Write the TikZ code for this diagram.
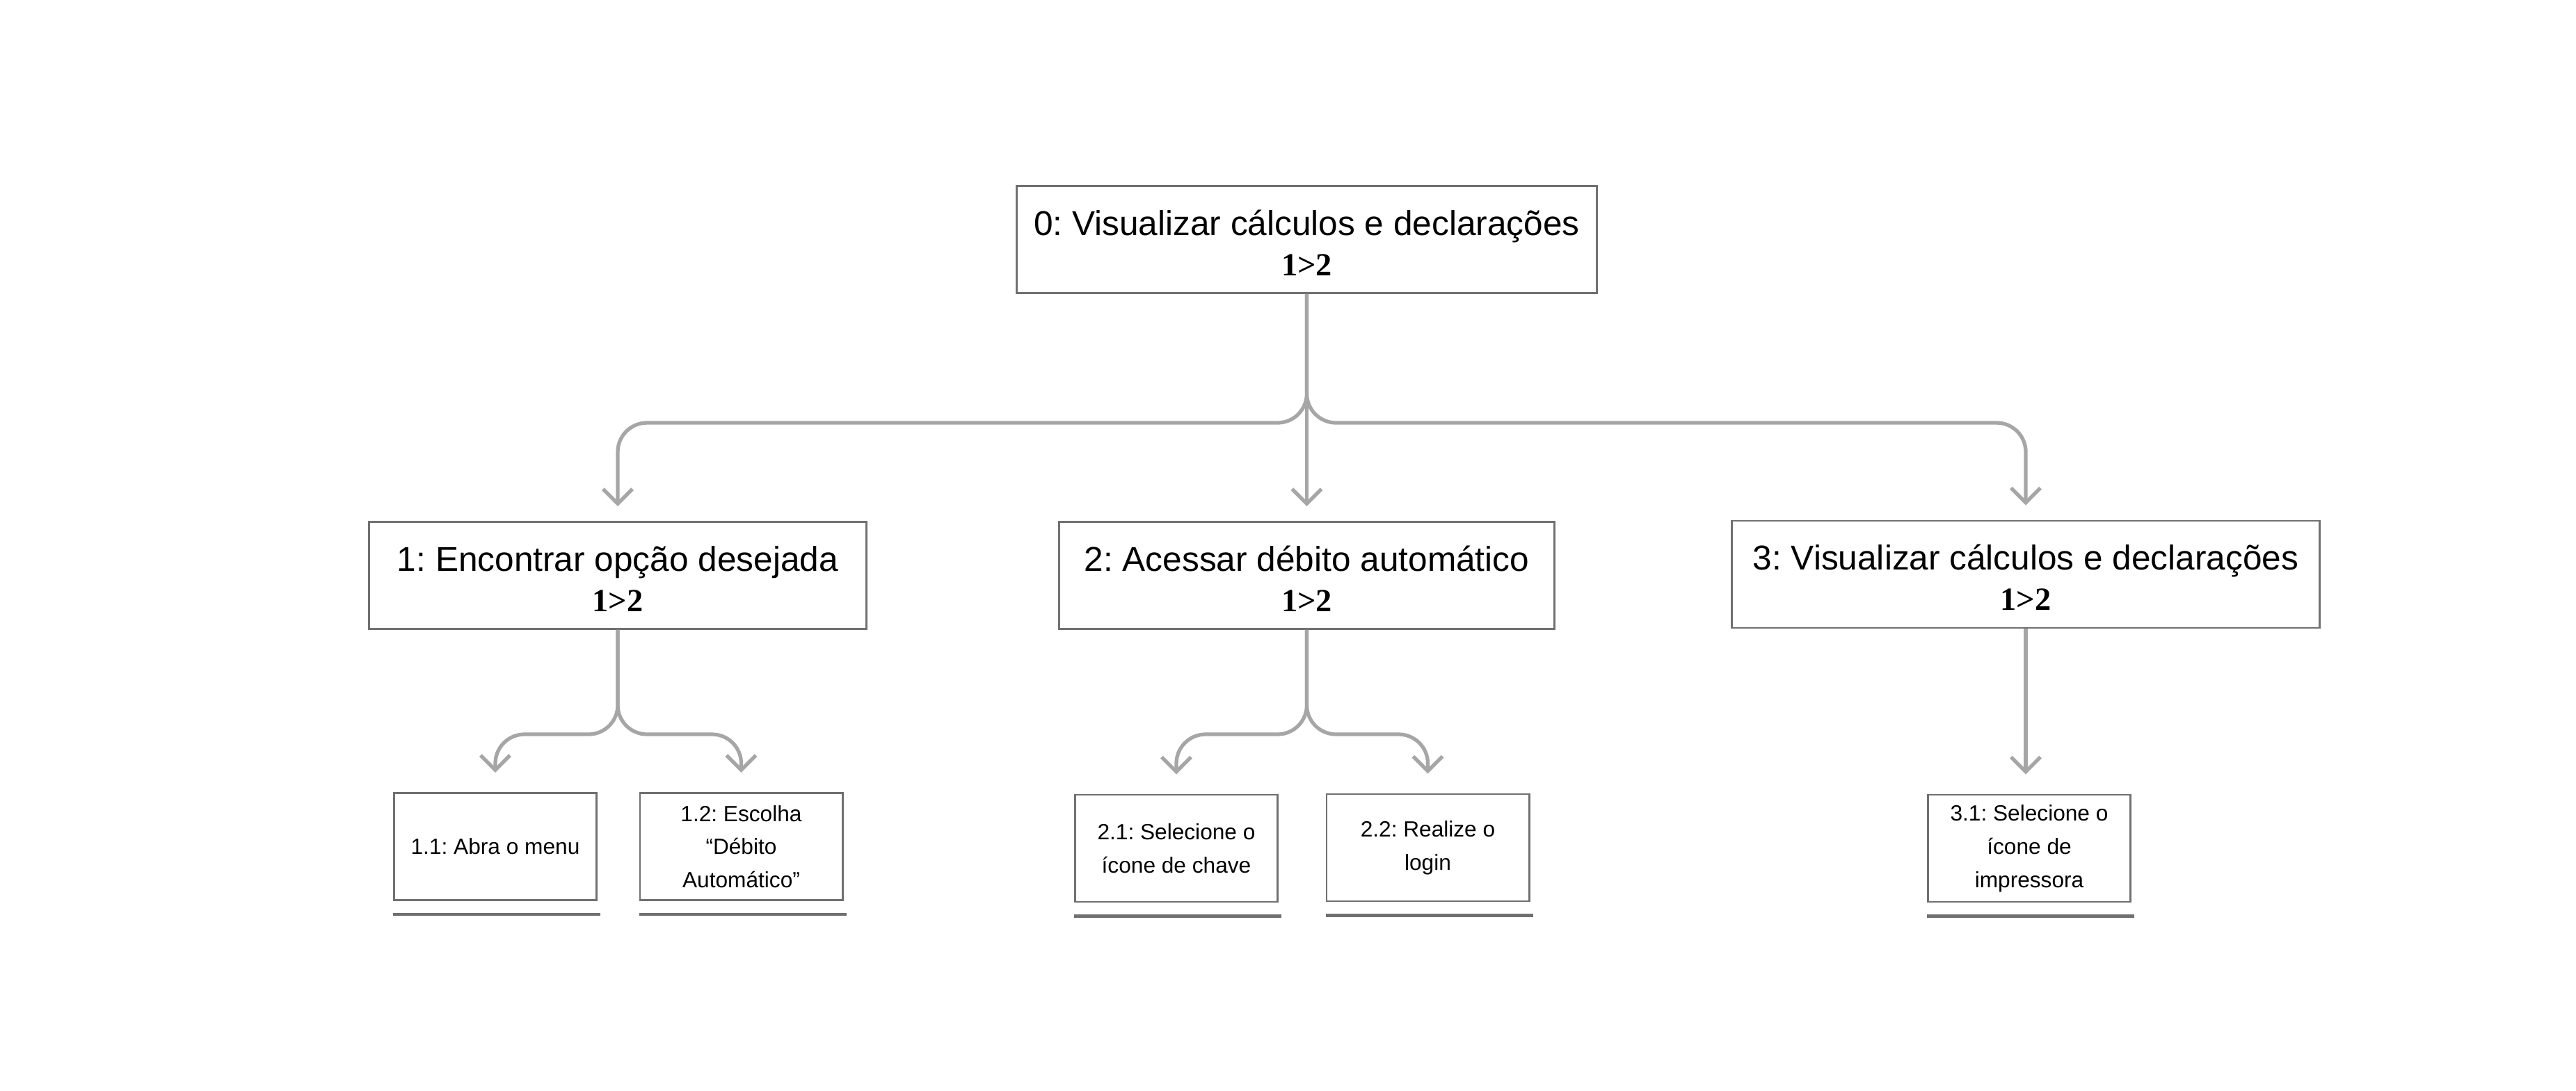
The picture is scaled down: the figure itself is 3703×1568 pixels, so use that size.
\documentclass[tikz,border=0pt]{standalone}
\usepackage{fontspec}
\setmainfont{Liberation Sans}
\newfontfamily\numfont{Liberation Serif}
\usetikzlibrary{arrows.meta}
\definecolor{boxgray}{HTML}{707070}
\definecolor{arrgray}{HTML}{A6A6A6}
\frenchspacing
\newcommand{\ord}{{\fontsize{13.2}{16.5}\numfont\bfseries 1>2}}
\newcommand{\lowtext}[1]{\raisebox{-0.11cm}[\height][\depth]{\begin{tabular}{@{}c@{}}#1\end{tabular}}}
\begin{document}
\begin{tikzpicture}[x=0.01cm,y=-0.01cm,
  bigbox/.style={draw=boxgray,line width=0.8pt,inner sep=0pt,
    minimum height=1.54cm,font=\fontsize{14.1}{16.5}\selectfont},
  smallbox/.style={draw=boxgray,line width=0.8pt,inner sep=0pt,align=center,
    minimum width=2.91cm,minimum height=1.54cm,font=\fontsize{9}{13.6}\selectfont},
  conn/.style={draw=arrgray,line width=1.5pt,rounded corners=0.42cm,
    -{Straight Barb[length=6pt,width=12pt,line width=1.5pt]}},
  uline/.style={draw=boxgray,line width=1.3pt}]
\useasboundingbox (0,0) rectangle (3703,1568);
% level 0
\node[bigbox,minimum width=8.33cm] (b0) at (1878.5,344.5) {\lowtext{0: Visualizar cálculos e declarações\\\ord}};
% level 1
\node[bigbox,minimum width=7.15cm] (b1) at (888,827.5) {\lowtext{1: Encontrar opção desejada\\\ord}};
\node[bigbox,minimum width=7.11cm] (b2) at (1878.5,827.5) {\lowtext{2: Acessar débito automático\\\ord}};
\node[bigbox,minimum width=8.44cm] (b3) at (2912,826) {\lowtext{3: Visualizar cálculos e declarações\\\ord}};
% level 2
\node[smallbox] (s11) at (712,1217.5) {1.1: Abra o menu};
\node[smallbox] (s12) at (1065.5,1217.5) {1.2: Escolha\\“Débito\\Automático”};
\node[smallbox] (s21) at (1691,1220) {2.1: Selecione o\\ícone de chave};
\node[smallbox] (s22) at (2052.5,1219) {2.2: Realize o\\login};
\node[smallbox] (s31) at (2917,1220) {3.1: Selecione o\\ícone de\\impressora};
% underlines
\foreach \n in {s11,s12,s21,s22,s31}
  \draw[uline] ([yshift=-0.19cm]\n.south west) -- ([yshift=-0.19cm,xshift=0.04cm]\n.south east);
% helper levels
\coordinate (h0) at (0,608);
\coordinate (h1) at (0,1056);
% connectors from 0
\draw[conn] (b0.south) -- (b0.south |- h0) -- (b1.north |- h0) -- ([yshift=0.21cm]b1.north);
\draw[conn] (b0.south) -- (b0.south |- h0) -- (b3.north |- h0) -- ([yshift=0.21cm]b3.north);
\draw[conn] (b0.south) -- ([yshift=0.21cm]b2.north);
% connectors from 1
\draw[conn] (b1.south) -- (b1.south |- h1) -- (s11.north |- h1) -- ([yshift=0.28cm]s11.north);
\draw[conn] (b1.south) -- (b1.south |- h1) -- (s12.north |- h1) -- ([yshift=0.28cm]s12.north);
% connectors from 2
\draw[conn] (b2.south) -- (b2.south |- h1) -- (s21.north |- h1) -- ([yshift=0.28cm]s21.north);
\draw[conn] (b2.south) -- (b2.south |- h1) -- (s22.north |- h1) -- ([yshift=0.28cm]s22.north);
% connector from 3
\draw[conn] (b3.south) -- ([yshift=0.28cm]s31.north -| b3.south);
\end{tikzpicture}
\end{document}
